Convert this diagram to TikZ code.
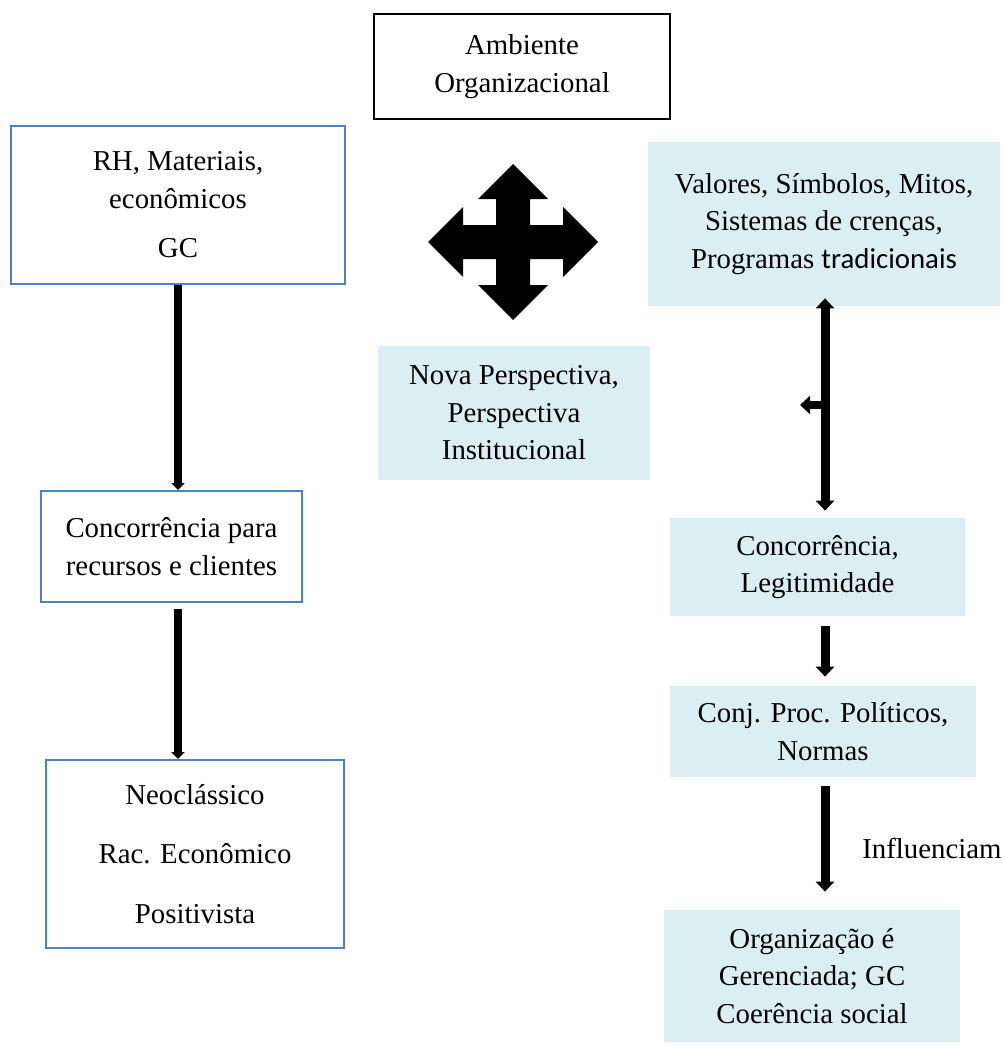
\documentclass[tikz,border=0pt]{standalone}
\usepackage{fontspec}
\setmainfont{Liberation Serif}
\newfontfamily\calibri{Carlito}
\usetikzlibrary{arrows.meta}
\definecolor{boxblue}{HTML}{4F81BD}
\definecolor{paleblue}{HTML}{DAEEF3}

\begin{document}
\begin{tikzpicture}[x = 0.02cm, y = -0.02cm,
    every node/.style = {align = center, inner sep = 0pt, font = \fontsize{16.4}{21.3}\selectfont},
    blackbox/.style = {draw, line width = 0.04cm},
    bluebox/.style = {draw = boxblue, line width = 0.04cm},
    palebox/.style = {fill = paleblue},
    thinarrow/.style = {line width = 0.16cm, -{Triangle[width = 0.26cm, length = 0.14cm]}},
    thickarrow/.style = {line width = 0.18cm, -{Triangle[width = 0.36cm, length = 0.2cm]}}]
    \useasboundingbox (0,0) rectangle (1004,1045);

    \node[blackbox, minimum width = 5.92cm, minimum height = 2.1cm] (amb) at (522,66.5)
        {Ambiente\\Organizacional};
    \node[bluebox, minimum width = 6.68cm, minimum height = 3.16cm] (rh) at (178,205)
        {RH, Materiais,\\econômicos\\[7pt]GC};
    \node[palebox, minimum width = 7.04cm, minimum height = 3.28cm] (val) at (824,224)
        {Valores, Símbolos, Mitos,\\Sistemas de crenças,\\Programas {\calibri tradicionais}};
    \node[palebox, minimum width = 5.44cm, minimum height = 2.68cm] (nova) at (514,413)
        {Nova Perspectiva,\\Perspectiva\\Institucional};
    \node[bluebox, minimum width = 5.22cm, minimum height = 2.22cm] (conc1) at (171.5,546.5)
        {Concorrência para\\recursos e clientes};
    \node[palebox, minimum width = 5.9cm, minimum height = 1.96cm] (conc2) at (817.5,567)
        {Concorrência,\\Legitimidade};
    \node[palebox, minimum width = 6.12cm, minimum height = 1.82cm] (conj) at (823,731.5)
        {Conj. Proc. Políticos,\\Normas};
    \node[bluebox, minimum width = 5.96cm, minimum height = 3.76cm] (neo) at (195,854)
        {Neoclássico\\[12.5pt]Rac. Econômico\\[12.5pt]Positivista};
    \node[palebox, minimum width = 5.92cm, minimum height = 2.64cm] (org) at (812,976)
        {Organização é\\Gerenciada; GC\\Coerência social};
    \node[anchor = base west] (infl) at (862,858) {Influenciam};

    \coordinate (mv) at (513,242);
    \fill[shift = {(mv)}] (0,-78) -- (35,-43) -- (17,-43) -- (17,-17) -- (50,-17) -- (50,-35)
        -- (85,0) -- (50,35) -- (50,17) -- (17,17) -- (17,43) -- (35,43) -- (0,78)
        -- (-35,43) -- (-17,43) -- (-17,17) -- (-50,17) -- (-50,35) -- (-85,0)
        -- (-50,-35) -- (-50,-17) -- (-17,-17) -- (-17,-43) -- (-35,-43) -- cycle;

    \draw[thinarrow] (rh.south) -- (rh.south |- conc1.north);
    \draw[thinarrow] ([yshift = -0.12cm]rh.south |- conc1.south) -- (rh.south |- neo.north);

    \coordinate (r) at (825,0);
    \coordinate (side) at (825,405);
    \coordinate (sidetip) at (800,405);
    \draw[line width = 0.18cm, {Triangle[width = 0.36cm, length = 0.2cm]}-{Triangle[width = 0.36cm, length = 0.2cm]}]
        ([yshift = 0.16cm]r |- val.south) -- ([yshift = 0.14cm]r |- conc2.north);
    \draw[line width = 0.16cm, -{Triangle[width = 0.36cm, length = 0.2cm]}] (side) -- (sidetip);
    \draw[thickarrow] ([yshift = -0.2cm]r |- conc2.south) -- ([yshift = 0.18cm]r |- conj.north);
    \draw[thickarrow] ([yshift = -0.18cm]r |- conj.south) -- ([yshift = 0.36cm]r |- org.north);
\end{tikzpicture}
\end{document}
